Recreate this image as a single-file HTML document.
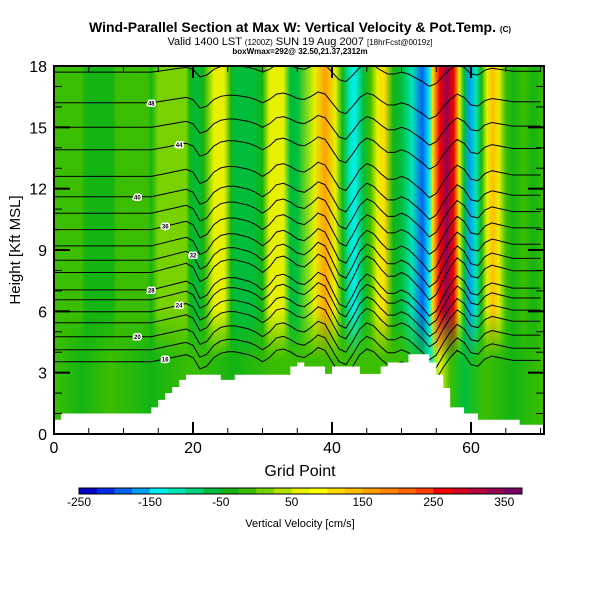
<!DOCTYPE html>
<html><head><meta charset="utf-8"><style>
body{margin:0;background:#fff;width:600px;height:600px;overflow:hidden}
svg{display:block;font-family:"Liberation Sans",sans-serif}
</style></head><body>
<svg id="chart" width="600" height="600" viewBox="0 0 600 600">
<defs>
<linearGradient id="wfield" x1="54" x2="544" y1="0" y2="0" gradientUnits="userSpaceOnUse"></linearGradient>
<linearGradient id="lowfield" x1="54" x2="544" y1="0" y2="0" gradientUnits="userSpaceOnUse"></linearGradient>
<linearGradient id="fadeMask" x1="0" x2="0" y1="0" y2="1">
<stop offset="0" stop-color="#fff" stop-opacity="0"/>
<stop offset="0.4" stop-color="#fff" stop-opacity="1"/>
<stop offset="1" stop-color="#fff" stop-opacity="1"/>
</linearGradient>
<mask id="lowMask"><rect x="54" y="310" width="490" height="124" fill="url(#fadeMask)"/></mask>
<clipPath id="plotClip"><rect x="54" y="66" width="490" height="368"/></clipPath>
</defs>
<text x="300" y="32" text-anchor="middle" font-size="14" font-weight="bold">Wind-Parallel Section at Max W: Vertical Velocity &amp; Pot.Temp. <tspan font-size="8">(C)</tspan></text>
<text x="300" y="45" text-anchor="middle" font-size="11">Valid 1400 LST <tspan font-size="8">(1200Z)</tspan> SUN 19 Aug 2007 <tspan font-size="8">[18hrFcst@0019z]</tspan></text>
<text x="300" y="54" text-anchor="middle" font-size="8" font-weight="bold">boxWmax=292@ 32.50,21.37,2312m</text>
<g id="plot" clip-path="url(#plotClip)">
<rect x="54" y="66" width="490" height="368" fill="url(#wfield)"/>
<rect x="54" y="310" width="490" height="124" fill="url(#lowfield)" mask="url(#lowMask)"/>
<g id="contours"></g>
<path id="terrain" fill="#fff"/>
</g>
<rect x="54" y="66" width="490" height="368" fill="none" stroke="#000" stroke-width="2"/>
<g id="axes"></g>
<text x="300" y="476" text-anchor="middle" font-size="16">Grid Point</text>
<text transform="translate(20,250) rotate(-90)" text-anchor="middle" font-size="15">Height [Kft MSL]</text>
<g id="colorbar"></g>
<text x="300" y="527" text-anchor="middle" font-size="11">Vertical Velocity [cm/s]</text>
</svg>
<script>
// ---- data ----
const fieldGrid = [0,4,4.5,8.5,9,13.5,14,15,19,19.5,20.5,21.5,23,24.5,25.5,26,28.5,30,31,33,34,35,37.5,39,40.5,41.5,42.5,43.3,44.5,45.5,46.5,47.5,48.8,50,51.5,53,54,54.5,55.5,56.5,57.5,58.3,59,59.8,60.7,61.5,62.3,63.2,64,65,66,67.5,69,70.5];
const fieldVals = [-10,-10,-30,-30,-10,-10,-30,5,5,-30,-60,-40,60,60,-30,-55,-55,-30,50,50,-60,-60,50,150,60,-40,-110,-150,-60,-20,60,120,-30,-70,-120,-180,-150,100,260,330,250,60,-70,-160,-110,-30,60,140,60,-20,-30,-10,-30,-10];
const lowGrid = [0,4,8,14,20,26,32,38,44,50,53,54,55.5,57,59,62,66,70.5];
const lowVals = [-10,-30,-10,-30,-10,-30,-10,-10,-20,-10,-60,-120,60,-10,-60,-10,-30,-10];
const terrainH = [0.7,1,1,1,1,1,1,1,1,1,1,1,1,1,1.3,1.67,2,2.3,2.65,2.9,2.9,2.9,2.9,2.9,2.65,2.65,2.9,2.9,2.9,2.9,2.9,2.9,2.9,2.9,3.3,3.5,3.3,3.3,3.3,2.94,3.3,3.3,3.3,3.3,2.94,2.94,2.94,3.3,3.5,3.5,3.5,3.9,3.9,3.9,3.5,2.9,2.25,1.3,1.3,1,1,0.7,0.7,0.7,0.7,0.7,0.7,0.45,0.45,0.45,0.45];
const thetaLevels = [350,348,346,344,342,340,338,336,334,332,330,328,326,324,322,320,318,316];
const thetaBase = [17.7,16.2,15.0,13.9,12.6,11.6,10.8,10.0,9.2,8.5,7.9,7.05,6.57,5.98,5.44,4.76,4.12,3.53];
const waveDisp = [0,0,0,0,0,0,0,0,0,0,0,0,0,0,0,0.1,0.2,0.3,0.4,0.5,0.3,-0.5,-0.3,0.3,0.6,0.7,0.7,0.6,0.5,0.3,0,0.3,0.8,0.9,0.7,0.4,0.3,0.6,1.0,0.8,0,-0.8,-1.0,-0.3,0.5,0.9,0.7,0.2,-0.2,-0.2,0,-0.2,-0.6,-1.0,-1.5,-1.2,-0.4,0.3,0.8,0.5,-0.2,-0.3,0.2,0.4,0.3,0.2,0.1,0.1,0.1,0.1,0.1];
const cbarLevels = [-250,-225,-200,-175,-150,-125,-100,-75,-50,-25,0,25,50,75,100,125,150,175,200,225,250,275,300,325,350];
const cbarColors = ["#0000c8","#0028e6","#0064f0","#00a0f5","#00f0f0","#00e6b4","#00d27d","#00be3c","#14b414","#3cbe00","#78d200","#b4e100","#e6f000","#ffff00","#ffdc00","#ffbe00","#ffa000","#ff8200","#ff6400","#ff3c00","#f00000","#d2001e","#b4003c","#960050","#780064"];
const xTicks = [0,20,40,60];
const yTicks = [0,3,6,9,12,15,18];
// ---- scales ----
const X0=54,X1=544,Y0=434,Y1=66;
const px = g => X0 + g*(X1-X0)/70.5;
const py = h => Y0 - h*(Y0-Y1)/18;
const NS="http://www.w3.org/2000/svg";
function mk(t,a,p){const e=document.createElementNS(NS,t);for(const k in a)e.setAttribute(k,a[k]);(p||document.getElementById('chart')).appendChild(e);return e;}
function colorFor(v){let i=Math.floor((v+250)/25);i=Math.max(0,Math.min(24,i));return cbarColors[i];}
function fillGrad(id,grid,vals){const g=document.getElementById(id);
 grid.forEach((gx,i)=>{mk('stop',{offset:((px(gx)-X0)/(X1-X0)).toFixed(4),'stop-color':colorFor(vals[i])},g);});}
fillGrad('wfield',fieldGrid,fieldVals);
fillGrad('lowfield',lowGrid,lowVals);
// terrain
let d=`M${px(0)},${Y0+2}`;
terrainH.forEach((h,i)=>{d+=` L${px(i)},${py(h)} L${px(i+1)},${py(h)}`;});
d+=` L${px(terrainH.length)},${Y0+2} Z`;
document.getElementById('terrain').setAttribute('d',d);
// contours
const cg=document.getElementById('contours');
thetaBase.forEach((b,k)=>{
 const amp = 0.45 + 0.45*Math.max(0,1-Math.abs(b-8)/10);
 let pts=[];
 for(let i=0;i<waveDisp.length;i++){pts.push(px(i).toFixed(1)+','+py(b+waveDisp[i]*amp).toFixed(1));}
 const l=mk('polyline',{points:pts.join(' '),fill:'none',stroke:'#000','stroke-width':1},cg);
 
 
 if(k%2==1){
  const gx = 12 + (k%5)*2;
  const t=mk('text',{x:px(gx),y:py(b+waveDisp[gx]*amp)+2.5,'font-size':6,'font-weight':'bold','text-anchor':'middle',fill:'#000',stroke:'#fff','stroke-width':3,'paint-order':'stroke'},cg);
  t.textContent=String(thetaLevels[k]).slice(1);
  
  
 }
});
// axes
const ax=document.getElementById('axes');
for(let g=0;g<=70;g+=5){const maj=g%20==0;
 mk('line',{x1:px(g),x2:px(g),y1:Y0,y2:Y0-(maj?12:6),stroke:'#000','stroke-width':maj?2:1},ax);
 mk('line',{x1:px(g),x2:px(g),y1:Y1,y2:Y1+(maj?12:6),stroke:'#000','stroke-width':maj?2:1},ax);}
xTicks.forEach(v=>{const t=mk('text',{x:px(v),y:453,'font-size':16,'text-anchor':'middle'},ax);t.textContent=v;
 });
for(let h=0;h<=18;h++){const maj=h%3==0;
 mk('line',{x1:X0,x2:X0+(maj?16:8),y1:py(h),y2:py(h),stroke:'#000','stroke-width':maj?2:1},ax);
 mk('line',{x1:X1,x2:X1-(maj?16:8),y1:py(h),y2:py(h),stroke:'#000','stroke-width':maj?2:1},ax);}
yTicks.forEach(v=>{const t=mk('text',{x:47,y:py(v)+6,'font-size':16,'text-anchor':'end'},ax);t.textContent=v;
 });
// colorbar
const cb=document.getElementById('colorbar');const cw=(522-79)/cbarColors.length;
cbarColors.forEach((c,i)=>{const r=mk('rect',{x:79+i*cw,y:488,width:cw+0.3,height:6,fill:c},cb);
 });
mk('rect',{x:79,y:488,width:443,height:6,fill:'none',stroke:'#000','stroke-width':1},cb);
cbarLevels.forEach((v,i)=>{if(i%4==0){const t=mk('text',{x:79+i*cw,y:506,'font-size':12,'text-anchor':'middle'},cb);t.textContent=v;
 }});
</script>
</body></html>
